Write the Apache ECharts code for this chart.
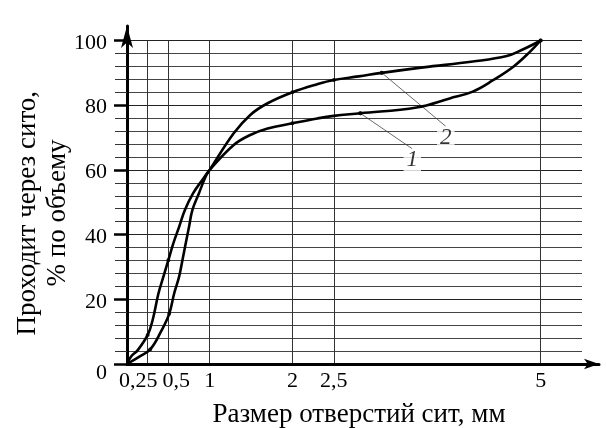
<!DOCTYPE html>
<html>
<head>
<meta charset="utf-8">
<script src="https://cdn.jsdelivr.net/npm/echarts@6/dist/echarts.min.js"></script>
<style>
  html, body { margin: 0; padding: 0; background: #fff; }
  #chart { width: 606px; height: 428px; }
</style>
</head>
<body>
<div id="chart"></div>
<script>
// размеры сит, мм (вертикальные линии сетки)
var sieveTicks = [0.25, 0.5, 1, 2, 2.5, 5];

// кривая 1
var curve1X = [0, 0.05, 0.13, 0.25, 0.31, 0.38, 0.44, 0.5, 0.56, 0.63, 0.7, 0.8, 0.91, 1.0, 1.29, 1.49, 1.7, 2.0, 2.3, 2.5, 2.82, 3.5, 3.9, 4.18, 4.43, 4.67, 4.87, 5];
var curve1Y = [0, 2.3, 4.3, 9.0, 13.6, 21.8, 27.0, 32.1, 37.3, 42.4, 47.6, 52.8, 56.9, 60, 67.7, 70.8, 72.8, 74.4, 75.9, 76.7, 77.5, 79.3, 82.1, 84.2, 87.8, 91.9, 96.5, 100];

// кривая 2
var curve2X = [0, 0.15, 0.28, 0.41, 0.51, 0.57, 0.63, 0.67, 0.71, 0.75, 0.79, 0.87, 0.95, 1.0, 1.29, 1.49, 1.7, 2.0, 2.3, 2.5, 2.8, 3.08, 3.58, 4.18, 4.59, 4.79, 4.95, 5];
var curve2Y = [0, 2.3, 4.5, 10, 15.5, 21.8, 27.0, 32.1, 37.3, 42.4, 47.6, 52.8, 57.9, 60, 71.3, 77, 80.6, 84.0, 86.5, 87.8, 88.9, 90.0, 91.7, 93.5, 95.2, 97.3, 99.3, 100];

// опытные точки
var dots1X = [0.25, 0.5, 2.0, 2.82, 5];
var dots1Y = [9.0, 32.1, 74.4, 77.5, 100];
var dots2X = [0.28, 0.51, 2.0, 2.5, 3.08, 5];
var dots2Y = [4.5, 15.5, 84.0, 87.8, 90.0, 100];

function pairs(xs, ys) {
  return xs.map(function (x, i) { return [x, ys[i]]; });
}

var serif = 'Liberation Serif';
var myChart = echarts.init(document.getElementById('chart'), null, { renderer: 'canvas' });

var calloutLabel = {
  show: true,
  position: 'inside',
  fontFamily: serif,
  fontStyle: 'italic',
  fontSize: 23,
  color: '#000',
  backgroundColor: '#fff',
  padding: [0, 3]
};

var option = {
  backgroundColor: '#fff',
  animation: false,
  grid: [
    { left: 127, right: 24, top: 40.5, bottom: 64, outerBoundsMode: 'none' },
    // только оси со стрелками
    { left: 127, right: 7, top: 26, bottom: 64, outerBoundsMode: 'none' }
  ],
  xAxis: [
    {
      type: 'value', gridIndex: 0, min: 0, max: 5.5,
      axisLine: { show: false },
      axisTick: { show: false, customValues: sieveTicks },
      axisLabel: {
        customValues: sieveTicks,
        margin: 6,
        fontFamily: serif, fontSize: 22, color: '#000',
        formatter: function (v) {
          var s = String(v).replace('.', ',');
          if (v === 0.25) return '{l|' + s + '}';
          if (v === 0.5) return '{r|' + s + '}';
          return s;
        },
        rich: {
          l: { fontFamily: serif, fontSize: 22, color: '#000', padding: [0, 19, 0, 0] },
          r: { fontFamily: serif, fontSize: 22, color: '#000', padding: [0, 0, 0, 16] }
        }
      },
      splitLine: { show: true, lineStyle: { color: '#333', width: 1 } },
      name: 'Размер отверстий сит, мм',
      nameLocation: 'middle',
      nameGap: 37,
      nameTextStyle: { fontFamily: serif, fontSize: 27, color: '#000', padding: [0, 0, 0, 9] }
    },
    {
      type: 'value', gridIndex: 1, min: 0, max: 10,
      axisLine: { show: true, symbol: ['none', 'arrow'], symbolSize: [8, 15], lineStyle: { color: '#000', width: 3 } },
      axisTick: { show: false },
      axisLabel: { show: false },
      splitLine: { show: false }
    }
  ],
  yAxis: [
    {
      type: 'value', gridIndex: 0, min: 0, max: 100, interval: 20,
      axisLine: { show: false },
      axisTick: { show: true, length: 13, lineStyle: { color: '#000', width: 2.5 } },
      minorTick: { show: true, splitNumber: 5, length: 12, lineStyle: { color: '#333', width: 1 } },
      minorSplitLine: { show: true, lineStyle: { color: '#444', width: 1 } },
      splitLine: { show: true, lineStyle: { color: '#222', width: 1 } },
      axisLabel: {
        margin: 20,
        fontFamily: serif, fontSize: 22, color: '#000',
        padding: [5, 0, 0, 0],
        formatter: function (v) { return v === 0 ? '{z|0}' : String(v); },
        rich: { z: { fontFamily: serif, fontSize: 22, color: '#000', padding: [14, 0, 0, 0] } }
      },
      name: 'Проходит через сито,',
      nameLocation: 'middle',
      nameRotate: 90,
      nameGap: 86,
      nameTextStyle: { fontFamily: serif, fontSize: 27, color: '#000', padding: [0, 22, 0, 0] }
    },
    {
      type: 'value', gridIndex: 1, min: 0, max: 10,
      axisLine: { show: true, symbol: ['none', 'arrow'], symbolSize: [9, 22], lineStyle: { color: '#000', width: 3 } },
      axisTick: { show: false },
      axisLabel: { show: false },
      splitLine: { show: false },
      name: '% по объему',
      nameLocation: 'middle',
      nameRotate: 90,
      nameGap: 56,
      nameTextStyle: { fontFamily: serif, fontSize: 27, color: '#000', padding: [0, 36, 0, 0] }
    }
  ],
  series: [
    {
      name: '1', type: 'line', xAxisIndex: 0, yAxisIndex: 0,
      data: pairs(curve1X, curve1Y),
      smooth: 0.4, showSymbol: false,
      lineStyle: { color: '#000', width: 2.6 }
    },
    {
      name: '2', type: 'line', xAxisIndex: 0, yAxisIndex: 0,
      data: pairs(curve2X, curve2Y),
      smooth: 0.4, showSymbol: false,
      lineStyle: { color: '#000', width: 2.6 }
    },
    {
      name: 'точки 1', type: 'scatter', xAxisIndex: 0, yAxisIndex: 0,
      data: pairs(dots1X, dots1Y),
      symbolSize: 4, itemStyle: { color: '#000' }
    },
    {
      name: 'точки 2', type: 'scatter', xAxisIndex: 0, yAxisIndex: 0,
      data: pairs(dots2X, dots2Y),
      symbolSize: 4, itemStyle: { color: '#000' }
    },
    // выноски с номерами кривых
    {
      name: 'выноска 1', type: 'scatter', xAxisIndex: 0, yAxisIndex: 0,
      data: [[dots1X[3], dots1Y[3]]],
      symbolSize: 4, itemStyle: { color: '#000' },
      label: Object.assign({}, calloutLabel, { formatter: '1' }),
      labelLayout: { dx: 52, dy: 47 },
      labelLine: { show: true, lineStyle: { color: '#444', width: 0.8 } }
    },
    {
      name: 'выноска 2', type: 'scatter', xAxisIndex: 0, yAxisIndex: 0,
      data: [[dots2X[4], dots2Y[4]]],
      symbolSize: 4, itemStyle: { color: '#000' },
      label: Object.assign({}, calloutLabel, { formatter: '2' }),
      labelLayout: { dx: 64, dy: 65 },
      labelLine: { show: true, lineStyle: { color: '#444', width: 0.8 } }
    }
  ]
};
myChart.setOption(option);
</script>
</body>
</html>
